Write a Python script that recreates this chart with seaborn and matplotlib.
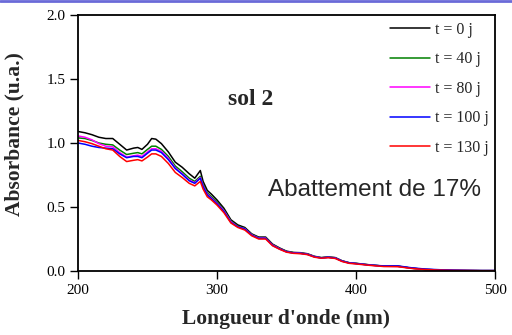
import matplotlib
matplotlib.use("Agg")
import matplotlib.pyplot as plt
import seaborn as sns
import pandas as pd
from matplotlib.lines import Line2D

wavelength = [200, 205, 210, 215, 220, 225, 230, 235, 240, 243, 246, 250, 253, 256, 260,
              265, 270, 275, 280, 284, 288, 290, 293, 296, 300, 305, 310, 315, 320, 325,
              330, 335, 340, 345, 350, 355, 360, 365, 370, 375, 380, 385, 390, 395, 400,
              410, 420, 430, 440, 450, 460, 470, 480, 490, 500]

t0 = [1.09, 1.08, 1.065, 1.045, 1.035, 1.035, 0.99, 0.945, 0.96, 0.965, 0.95, 0.99, 1.035, 1.03, 0.995,
      0.93, 0.85, 0.81, 0.76, 0.725, 0.785, 0.70, 0.63, 0.60, 0.555, 0.49, 0.40, 0.36, 0.34, 0.29,
      0.265, 0.265, 0.21, 0.18, 0.155, 0.145, 0.143, 0.135, 0.115, 0.105, 0.11, 0.105, 0.08, 0.065, 0.06,
      0.048, 0.038, 0.038, 0.022, 0.012, 0.008, 0.005, 0.004, 0.003, 0.003]
t40 = [1.04, 1.035, 1.02, 1.0, 0.99, 0.985, 0.945, 0.91, 0.92, 0.925, 0.915, 0.95, 0.975, 0.975, 0.95,
       0.895, 0.82, 0.775, 0.725, 0.70, 0.74, 0.675, 0.61, 0.58, 0.54, 0.475, 0.39, 0.35, 0.333, 0.285,
       0.26, 0.26, 0.205, 0.176, 0.152, 0.143, 0.14, 0.132, 0.113, 0.103, 0.108, 0.103, 0.078, 0.064, 0.059,
       0.047, 0.038, 0.037, 0.022, 0.012, 0.008, 0.005, 0.004, 0.003, 0.003]
t80 = [1.055, 1.045, 1.025, 0.995, 0.975, 0.97, 0.925, 0.89, 0.90, 0.905, 0.895, 0.93, 0.955, 0.955, 0.935,
       0.88, 0.805, 0.76, 0.71, 0.69, 0.73, 0.665, 0.60, 0.57, 0.53, 0.47, 0.385, 0.345, 0.33, 0.282,
       0.257, 0.257, 0.203, 0.174, 0.15, 0.141, 0.139, 0.131, 0.112, 0.102, 0.107, 0.102, 0.077, 0.063, 0.058,
       0.046, 0.037, 0.036, 0.022, 0.012, 0.008, 0.005, 0.004, 0.003, 0.003]
t100 = [1.00, 0.99, 0.975, 0.965, 0.96, 0.955, 0.915, 0.885, 0.895, 0.895, 0.885, 0.92, 0.945, 0.945, 0.925,
        0.87, 0.80, 0.755, 0.705, 0.685, 0.725, 0.66, 0.595, 0.565, 0.525, 0.465, 0.38, 0.345, 0.328, 0.28,
        0.255, 0.255, 0.20, 0.172, 0.15, 0.14, 0.138, 0.13, 0.111, 0.102, 0.107, 0.101, 0.077, 0.063, 0.058,
        0.046, 0.04, 0.04, 0.025, 0.015, 0.01, 0.006, 0.004, 0.003, 0.003]
t130 = [1.02, 1.01, 0.995, 0.975, 0.955, 0.945, 0.895, 0.855, 0.865, 0.87, 0.86, 0.89, 0.915, 0.915, 0.895,
        0.84, 0.77, 0.73, 0.685, 0.665, 0.70, 0.64, 0.58, 0.555, 0.515, 0.455, 0.375, 0.34, 0.32, 0.275,
        0.25, 0.25, 0.197, 0.17, 0.147, 0.138, 0.135, 0.128, 0.108, 0.10, 0.104, 0.098, 0.074, 0.06, 0.055,
        0.044, 0.035, 0.034, 0.02, 0.011, 0.007, 0.004, 0.003, 0.002, 0.002]

labels = ["t = 0 j", "t = 40 j", "t = 80 j", "t = 100 j", "t = 130 j"]
series = [t0, t40, t80, t100, t130]
colors = ["#000000", "#008000", "#ff00ff", "#0000ff", "#ff0000"]

rows = []
for lab, vals in zip(labels, series):
    for w, v in zip(wavelength, vals):
        rows.append({"wavelength": w, "absorbance": v, "serie": lab})
df = pd.DataFrame(rows)

sns.set_style("ticks")
plt.rcParams["font.family"] = ["Liberation Serif", "DejaVu Serif"]

fig = plt.figure(figsize=(5.12, 3.35), dpi=100)
ax = fig.add_axes([78 / 512, 1 - 271 / 335, (495 - 78) / 512, (271 - 15) / 335])

sns.lineplot(data=df, x="wavelength", y="absorbance", hue="serie",
             hue_order=labels, palette=colors, ax=ax, linewidth=1.1, legend=False)

ax.set_xlim(200, 500)
ax.set_ylim(0, 2.0)
ax.set_xticks([200, 300, 400, 500])
ax.set_yticks([0.0, 0.5, 1.0, 1.5, 2.0])
ax.set_yticklabels(["0.0", "0.5", "1.0", "1.5", "2.0"])
ax.tick_params(axis="both", direction="out", length=6, width=1, labelsize=11, colors="black", pad=3)
ax.tick_params(axis="both", which="both", top=False, right=False)
for s in ax.spines.values():
    s.set_visible(True)
    s.set_linewidth(1.3)
    s.set_color("black")

ax.set_xlabel("Longueur d'onde (nm)", fontsize=15.5, fontweight="bold", labelpad=9)
ax.set_ylabel("Absorbance (u.a.)", fontsize=15.5, fontweight="bold")
ax.yaxis.set_label_coords(-0.128, 0.535)

handles = [Line2D([0], [0], color=c, lw=1.1) for c in colors]
ax.legend(handles, labels, loc="upper right", bbox_to_anchor=(1.012, 1.018), frameon=False,
          fontsize=11.5, handlelength=2.5, labelspacing=0.85, handletextpad=0.3,
          borderaxespad=0.3)

ax.text(324.5, 1.336, "sol 2", fontsize=17, fontweight="bold", ha="center", va="center")
ax.text(490, 0.63, "Abattement de 17%", fontsize=17.5, family=["Liberation Sans", "DejaVu Sans"],
        ha="right", va="center")

fig.add_artist(Line2D([0, 1], [1 - 1 / 335, 1 - 1 / 335], transform=fig.transFigure,
                      color="#6a6ad8", lw=2))

fig.savefig("out.png", dpi=100)
